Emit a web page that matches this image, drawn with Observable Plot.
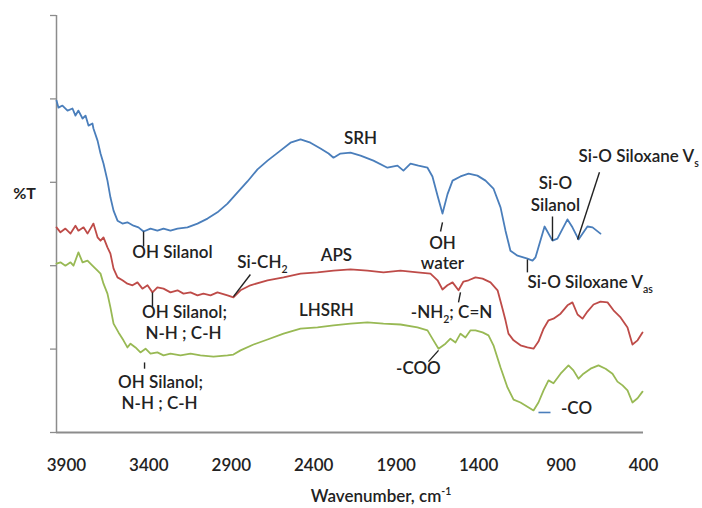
<!DOCTYPE html>
<html>
<head>
<meta charset="utf-8">
<script src="https://cdn.jsdelivr.net/npm/d3@7"></script>
<script src="https://cdn.jsdelivr.net/npm/@observablehq/plot@0.6"></script>
<style>
  html, body { margin: 0; padding: 0; background: #fff; }
  #chart svg { font-family: Lato, "Open Sans", sans-serif; }
</style>
</head>
<body>
<div id="chart"></div>
<script>
// Wavenumber (cm-1) and relative %T readings for each spectrum
const srh = [[3960,79.6],[3948,77.9],[3924,78.4],[3893,77.2],[3863,77.7],[3845,76.0],[3827,77.2],[3802,75.3],[3784,76.0],[3766,73.6],[3742,74.1],[3736,72.9],[3711,70.0],[3693,66.9],[3675,64.5],[3651,60.4],[3633,56.4],[3614,53.2],[3590,50.8],[3560,50.1],[3530,50.4],[3493,49.6],[3463,49.2],[3432,48.2],[3390,48.9],[3348,48.4],[3311,48.9],[3269,48.4],[3226,48.9],[3166,49.2],[3105,50.1],[3044,51.3],[2984,52.8],[2923,54.9],[2862,57.6],[2802,60.2],[2741,63.1],[2680,65.2],[2602,67.6],[2541,69.5],[2480,70.3],[2420,69.5],[2359,68.1],[2310,66.9],[2280,65.9],[2238,66.9],[2177,67.1],[2116,66.4],[2038,65.2],[1953,63.5],[1892,64.0],[1856,62.8],[1813,64.5],[1765,64.0],[1710,63.5],[1680,61.4],[1649,56.8],[1619,52.5],[1589,57.1],[1558,60.4],[1510,61.4],[1461,62.1],[1407,61.6],[1358,60.4],[1310,58.5],[1267,54.0],[1237,48.4],[1207,43.6],[1164,42.4],[1104,41.7],[1073,41.2],[1055,42.0],[1037,44.4],[1000,49.4],[952,46.0],[922,46.5],[861,51.1],[831,49.2],[794,46.3],[740,49.4],[709,49.2],[661,47.7]];

const aps = [[3960,49.2],[3936,48.0],[3906,48.9],[3875,47.7],[3845,49.6],[3827,48.4],[3796,49.2],[3772,47.7],[3754,48.9],[3736,50.1],[3711,46.8],[3693,46.0],[3675,46.8],[3651,44.4],[3633,42.9],[3614,39.3],[3590,37.2],[3560,36.5],[3530,35.7],[3499,35.3],[3469,36.0],[3439,34.5],[3408,35.3],[3378,33.6],[3348,34.8],[3311,34.5],[3269,33.6],[3226,34.1],[3190,33.3],[3147,33.6],[3105,32.9],[3069,33.3],[3026,32.9],[2984,33.6],[2923,32.9],[2887,32.4],[2844,34.1],[2784,35.3],[2680,36.5],[2583,37.2],[2480,38.1],[2377,38.4],[2280,38.8],[2177,39.1],[2074,38.8],[1977,38.4],[1874,38.8],[1771,38.4],[1692,38.1],[1649,36.5],[1619,34.3],[1589,35.3],[1558,36.0],[1522,34.1],[1492,36.2],[1461,36.5],[1419,37.2],[1376,36.9],[1328,36.0],[1285,34.1],[1255,29.7],[1237,26.9],[1219,23.7],[1188,22.1],[1146,20.9],[1104,20.4],[1067,20.1],[1037,21.8],[1006,24.9],[976,26.9],[946,27.3],[903,28.5],[861,30.5],[831,31.2],[800,28.3],[770,27.3],[740,29.0],[703,30.7],[661,31.4],[618,31.2],[582,29.3],[539,27.6],[497,25.2],[467,21.1],[436,22.1],[406,24.0]];

const lhsrh = [[3960,40.5],[3936,40.8],[3906,40.0],[3875,40.8],[3857,40.0],[3827,43.2],[3802,40.8],[3772,41.2],[3742,40.0],[3711,38.8],[3693,38.1],[3675,35.7],[3651,33.3],[3633,30.0],[3614,26.1],[3584,24.0],[3554,22.1],[3530,20.4],[3511,21.3],[3481,20.4],[3451,19.2],[3420,20.1],[3390,18.9],[3348,19.2],[3311,18.5],[3269,18.9],[3208,18.5],[3147,18.9],[3087,18.5],[3008,18.2],[2923,18.5],[2887,18.7],[2844,19.7],[2765,21.1],[2680,22.3],[2583,23.7],[2480,24.9],[2377,25.2],[2280,25.7],[2177,26.1],[2074,26.4],[1977,26.1],[1874,25.9],[1771,25.2],[1710,24.5],[1674,22.1],[1643,20.1],[1601,21.3],[1571,22.5],[1540,21.6],[1510,23.7],[1480,22.8],[1449,24.5],[1419,24.5],[1376,24.0],[1340,23.3],[1310,20.9],[1267,15.6],[1225,10.8],[1188,7.9],[1146,7.2],[1104,6.2],[1067,5.3],[1037,7.2],[1006,10.1],[976,12.5],[946,11.8],[903,14.1],[855,16.1],[825,14.9],[794,12.9],[764,14.1],[721,15.3],[673,16.1],[630,15.3],[588,14.1],[558,12.2],[527,11.3],[497,10.1],[467,7.2],[436,8.2],[406,9.8]];

const xTicks = [3900, 3400, 2900, 2400, 1900, 1400, 900, 400];
const yTicks = [0, 20, 40, 60, 80, 100];
const xTitle = "Wavenumber, cm^{-1}";
const yTitle = "%T";

// Band annotations (wavenumber, %T)
const bandLabels = [
  {text: "SRH", wn: 2116, t: 70.5},
  {text: "OH Silanol", wn: 3257, t: 43.2},
  {text: "Si-CH_{2}", wn: 2711, t: 40.8},
  {text: "APS", wn: 2262, t: 42.4},
  {text: "OH Silanol;", wn: 3184, t: 28.8},
  {text: "N-H ; C-H", wn: 3190, t: 23.7},
  {text: "LHSRH", wn: 2323, t: 29.3},
  {text: "OH Silanol;", wn: 3329, t: 12.0},
  {text: "N-H ; C-H", wn: 3335, t: 7.0},
  {text: "OH", wn: 1619, t: 45.3},
  {text: "water", wn: 1619, t: 40.5},
  {text: "-NH_{2}; C=N", wn: 1564, t: 28.8},
  {text: "-COO", wn: 1765, t: 15.3},
  {text: "Si-O", wn: 934, t: 59.7},
  {text: "Silanol", wn: 934, t: 54.4},
  {text: "-CO", wn: 806, t: 5.8}
];
const bandLabelsLeft = [
  {text: "Si-O Siloxane V_{s}", wn: 794, t: 66.2},
  {text: "Si-O Siloxane V_{as}", wn: 1104, t: 36.0}
];
// Pointer lines (from -> to, wavenumber / %T)
const pointers = [
  {wn1: 3432, t1: 48.2, wn2: 3432, t2: 44.6},
  {wn1: 3378, t1: 33.6, wn2: 3378, t2: 30.2},
  {wn1: 3426, t1: 16.8, wn2: 3426, t2: 15.3},
  {wn1: 2887, t1: 32.6, wn2: 2784, t2: 37.9},
  {wn1: 1619, t1: 50.4, wn2: 1631, t2: 48.2},
  {wn1: 1510, t1: 33.6, wn2: 1522, t2: 31.2},
  {wn1: 1643, t1: 19.7, wn2: 1704, t2: 17.0},
  {wn1: 952, t1: 51.8, wn2: 952, t2: 46.0},
  {wn1: 667, t1: 62.4, wn2: 800, t2: 46.3},
  {wn1: 1104, t1: 41.5, wn2: 1104, t2: 38.4}
];
const coDash = [{wn1: 1037, t1: 4.8, wn2: 964, t2: 4.8}];

const blue = "#4a7ebb", red = "#be4b48", green = "#98b954";
const axisGray = "#8c8c8c", ink = "#222";
const fs = 17;

const chart = Plot.plot({
  width: 702,
  height: 508,
  marginLeft: 56,
  marginRight: 59,
  marginTop: 15,
  marginBottom: 76,
  x: {domain: [3960, 400]},
  y: {domain: [0, 100]},
  marks: [
    Plot.axisY({ticks: yTicks, tickSize: 6, tickFormat: () => "", stroke: axisGray, strokeWidth: 1.3, label: null}),
    Plot.axisX({ticks: xTicks, tickSize: 0, tickPadding: 26, tickFormat: d => String(d), fontSize: fs, fontWeight: 600, fill: ink, label: null}),
    Plot.ruleX([3960], {y1: 0, y2: 100, stroke: axisGray, strokeWidth: 1.5}),
    Plot.ruleY([0], {stroke: axisGray, strokeWidth: 2}),
    Plot.line(srh, {x: d => d[0], y: d => d[1], stroke: blue, strokeWidth: 1.8}),
    Plot.line(aps, {x: d => d[0], y: d => d[1], stroke: red, strokeWidth: 1.8}),
    Plot.line(lhsrh, {x: d => d[0], y: d => d[1], stroke: green, strokeWidth: 1.8}),
    Plot.link(pointers, {x1: "wn1", y1: "t1", x2: "wn2", y2: "t2", stroke: ink, strokeWidth: 1.4}),
    Plot.link(coDash, {x1: "wn1", y1: "t1", x2: "wn2", y2: "t2", stroke: blue, strokeWidth: 1.6}),
    Plot.text(bandLabels, {x: "wn", y: "t", text: "text", fontSize: fs, fontWeight: 600, fill: ink, textAnchor: "middle", lineAnchor: "middle"}),
    Plot.text(bandLabelsLeft, {x: "wn", y: "t", text: "text", fontSize: fs, fontWeight: 600, fill: ink, textAnchor: "start", lineAnchor: "middle"}),
    Plot.text([xTitle], {frameAnchor: "bottom", dx: 31, dy: 64, fontSize: 17, fontWeight: 600, fill: ink, textAnchor: "middle", lineAnchor: "middle"}),
    Plot.text([yTitle], {frameAnchor: "left", dx: -32, dy: -30, fontSize: 16, fontWeight: 700, fill: ink, textAnchor: "middle", lineAnchor: "middle"})
  ]
});

// Render _{...} as subscripts and ^{...} as superscripts
chart.querySelectorAll("text").forEach(t => {
  const s = t.textContent;
  if (!/[_^]\{/.test(s)) return;
  const size = parseFloat(getComputedStyle(t).fontSize) || fs;
  const parts = s.split(/([_^]\{[^}]*\})/).filter(p => p);
  while (t.firstChild) t.removeChild(t.firstChild);
  let shift = 0;
  parts.forEach(p => {
    const ts = document.createElementNS("http://www.w3.org/2000/svg", "tspan");
    let target = 0;
    if (p[0] === "_" || p[0] === "^") {
      ts.textContent = p.slice(2, -1);
      ts.setAttribute("font-size", (size * 0.62).toFixed(1));
      target = p[0] === "_" ? size * 0.32 : -size * 0.38;
    } else {
      ts.textContent = p;
    }
    ts.setAttribute("dy", (target - shift).toFixed(1));
    shift = target;
    t.appendChild(ts);
  });
});

document.getElementById("chart").appendChild(chart);
</script>
</body>
</html>
